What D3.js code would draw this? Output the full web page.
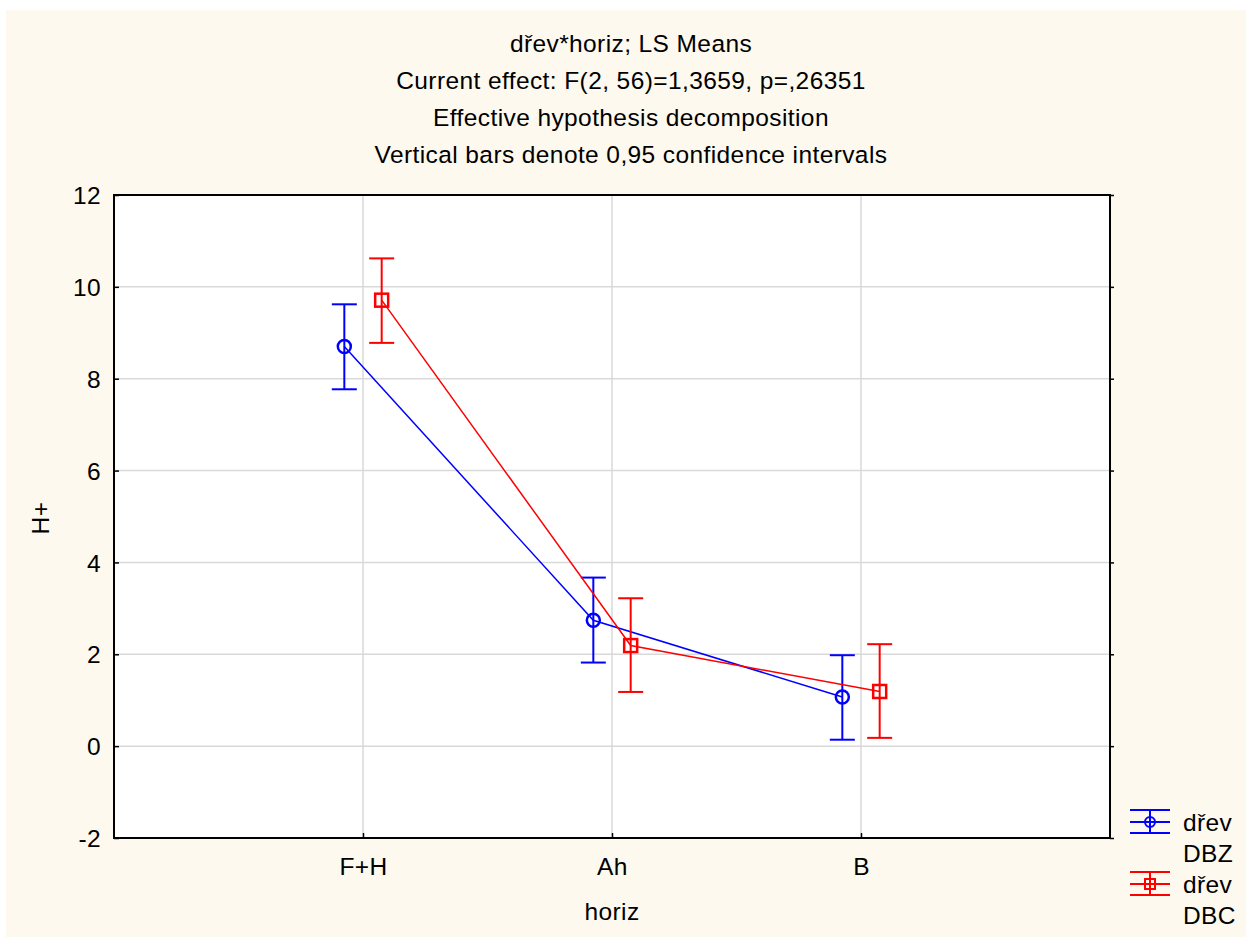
<!DOCTYPE html>
<html lang="cs">
<head>
<meta charset="utf-8">
<title>dřev*horiz; LS Means</title>
<script src="https://cdn.jsdelivr.net/npm/d3@7"></script>
<style>
  body { margin: 0; background: #ffffff; }
  svg text { font-family: "Liberation Sans", Arial, sans-serif; fill: #000; font-size: 24.5px; letter-spacing: 0.4px; }
</style>
</head>
<body>
<div id="chart"></div>
<script>
// data
var categories = ["F+H", "Ah", "B"];
var seriesNames = ["dřev\nDBZ", "dřev\nDBC"];
var dbzMean = [8.70, 2.74, 1.07];
var dbzLow  = [7.77, 1.82, 0.14];
var dbzHigh = [9.62, 3.67, 1.98];
var dbcMean = [9.71, 2.19, 1.19];
var dbcLow  = [8.78, 1.18, 0.18];
var dbcHigh = [10.62, 3.22, 2.22];
var yTicks = [-2, 0, 2, 4, 6, 8, 10, 12];
var titleLines = [
  "dřev*horiz; LS Means",
  "Current effect: F(2, 56)=1,3659, p=,26351",
  "Effective hypothesis decomposition",
  "Vertical bars denote 0,95 confidence intervals"
];

var w = 1246, h = 940;
var plotL = 114, plotR = 1110, plotT = 195, plotB = 838;

var svg = d3.select("#chart").append("svg")
  .attr("width", w).attr("height", h);

// cream panel
svg.append("rect").attr("x", 6).attr("y", 10)
  .attr("width", w - 6).attr("height", 927)
  .attr("fill", "#fdf9ef");

var x = d3.scaleLinear().domain([0, categories.length + 1]).range([plotL, plotR]);
var y = d3.scaleLinear().domain([-2, 12]).range([plotB, plotT]);

svg.append("rect").attr("x", plotL).attr("y", plotT)
  .attr("width", plotR - plotL).attr("height", plotB - plotT)
  .attr("fill", "#ffffff");

// grid
svg.selectAll(".hgrid").data(yTicks.slice(1, -1)).enter().append("line")
  .attr("class", "hgrid")
  .attr("x1", plotL).attr("x2", plotR)
  .attr("y1", function(d) { return y(d); })
  .attr("y2", function(d) { return y(d); })
  .attr("stroke", "#d9d9d9").attr("stroke-width", 1.5);
svg.selectAll(".vgrid").data(categories).enter().append("line")
  .attr("class", "vgrid")
  .attr("x1", function(d, i) { return x(i + 1); })
  .attr("x2", function(d, i) { return x(i + 1); })
  .attr("y1", plotT).attr("y2", plotB)
  .attr("stroke", "#d9d9d9").attr("stroke-width", 1.5);

// axes
var yAxis = svg.append("g").attr("transform", "translate(" + plotL + ",0)")
  .call(d3.axisLeft(y).tickValues(yTicks).tickSize(-5)
    .tickFormat(function(d) { return String(d); }));
var yAxisR = svg.append("g").attr("transform", "translate(" + plotR + ",0)")
  .call(d3.axisRight(y).tickValues(yTicks).tickSize(4).tickFormat(""));
var xAxis = svg.append("g").attr("transform", "translate(0," + plotB + ")")
  .call(d3.axisBottom(x).tickValues([1, 2, 3]).tickSize(-5)
    .tickFormat(function(d) { return categories[d - 1]; }));
[yAxis, yAxisR, xAxis].forEach(function(g) {
  g.select(".domain").remove();
  g.selectAll("line").attr("stroke", "#000").attr("stroke-width", 1.5);
  g.selectAll("text").attr("font-size", null).attr("font-family", null).attr("fill", "#000");
});
yAxis.selectAll("text").attr("dy", "0.35em").attr("x", -13);
xAxis.selectAll("text").attr("dy", null).attr("y", 37);

svg.append("rect").attr("x", plotL).attr("y", plotT)
  .attr("width", plotR - plotL).attr("height", plotB - plotT)
  .attr("fill", "none").attr("stroke", "#000").attr("stroke-width", 2);

// series
var series = [
  { mean: dbzMean, lo: dbzLow, hi: dbzHigh, color: "#0000ff", off: -0.075, shape: "circle" },
  { mean: dbcMean, lo: dbcLow, hi: dbcHigh, color: "#ff0000", off: 0.075, shape: "square" }
];
var cap = 12.5;

series.forEach(function(s) {
  var g = svg.append("g");
  var line = d3.line()
    .x(function(d, i) { return x(i + 1 + s.off); })
    .y(function(d) { return y(d); });
  g.append("path").datum(s.mean).attr("d", line)
    .attr("fill", "none").attr("stroke", s.color).attr("stroke-width", 1.5);

  categories.forEach(function(c, i) {
    var cx = x(i + 1 + s.off);
    g.append("line").attr("x1", cx).attr("x2", cx)
      .attr("y1", y(s.lo[i])).attr("y2", y(s.hi[i]))
      .attr("stroke", s.color).attr("stroke-width", 2);
    [s.lo[i], s.hi[i]].forEach(function(v) {
      g.append("line").attr("x1", cx - cap).attr("x2", cx + cap)
        .attr("y1", y(v)).attr("y2", y(v))
        .attr("stroke", s.color).attr("stroke-width", 2);
    });
    if (s.shape == "circle") {
      g.append("circle").attr("cx", cx).attr("cy", y(s.mean[i])).attr("r", 6.5)
        .attr("fill", "none").attr("stroke", s.color).attr("stroke-width", 2.5);
    } else {
      g.append("rect").attr("x", cx - 6.5).attr("y", y(s.mean[i]) - 6.5)
        .attr("width", 13).attr("height", 13)
        .attr("fill", "none").attr("stroke", s.color).attr("stroke-width", 2.5);
    }
  });
});

// titles
svg.selectAll(".title").data(titleLines).enter().append("text")
  .attr("class", "title")
  .attr("x", 631).attr("y", function(d, i) { return 52 + i * 37; })
  .attr("text-anchor", "middle")
  .text(function(d) { return d; });

svg.append("text").attr("x", 612).attr("y", 920)
  .attr("text-anchor", "middle").text("horiz");
svg.append("text").attr("transform", "translate(49,518) rotate(-90)")
  .attr("text-anchor", "middle").text("H+");

// legend
series.forEach(function(s, k) {
  var cy = 822 + k * 62;
  var g = svg.append("g");
  [-12, 0, 11].forEach(function(dy) {
    g.append("line").attr("x1", 1130).attr("x2", 1170)
      .attr("y1", cy + dy).attr("y2", cy + dy)
      .attr("stroke", s.color).attr("stroke-width", 2);
  });
  g.append("line").attr("x1", 1150).attr("x2", 1150)
    .attr("y1", cy - 12).attr("y2", cy + 11)
    .attr("stroke", s.color).attr("stroke-width", 2);
  if (s.shape == "circle") {
    g.append("circle").attr("cx", 1150).attr("cy", cy).attr("r", 5)
      .attr("fill", "none").attr("stroke", s.color).attr("stroke-width", 2);
  } else {
    g.append("rect").attr("x", 1145).attr("y", cy - 5).attr("width", 10).attr("height", 10)
      .attr("fill", "none").attr("stroke", s.color).attr("stroke-width", 2);
  }
  seriesNames[k].split("\n").forEach(function(t, j) {
    g.append("text").attr("x", 1183).attr("y", cy + 9 + j * 31).text(t);
  });
});
</script>
</body>
</html>
